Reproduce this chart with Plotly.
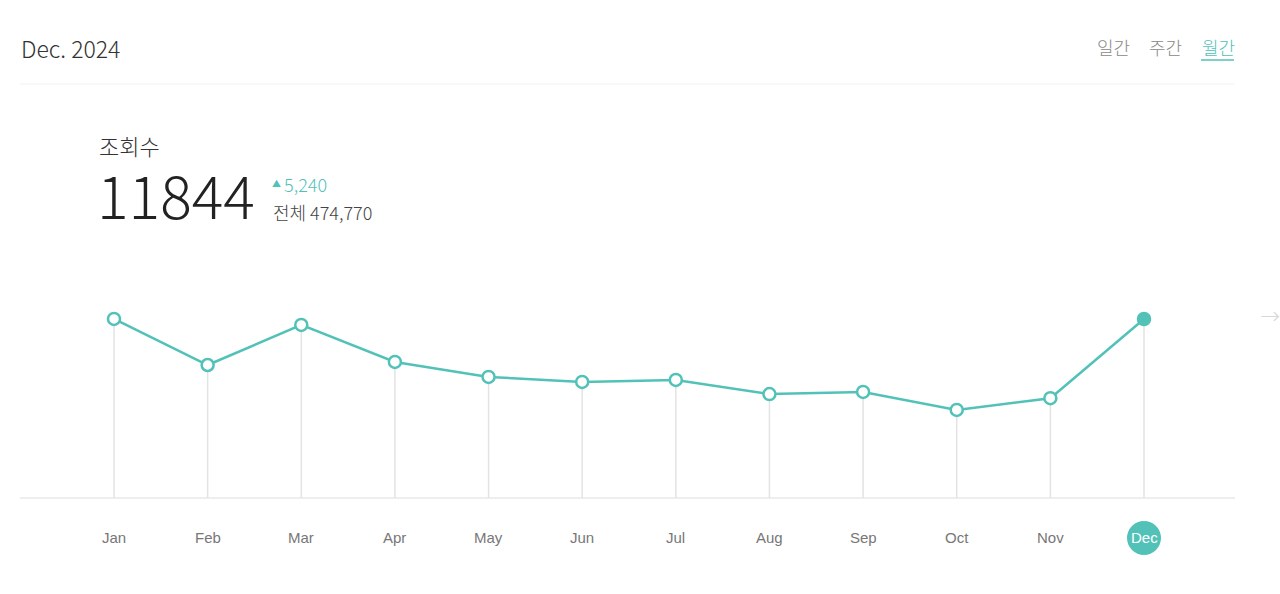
import plotly.graph_objects as go

# monthly views
months = ["Jan", "Feb", "Mar", "Apr", "May", "Jun", "Jul", "Aug", "Sep", "Oct", "Nov", "Dec"]
views = [11850, 8800, 11450, 9000, 8010, 7680, 7810, 6880, 7020, 5830, 6604, 11844]

title_text = "Dec. 2024"
metric_name = "조회수"
current_value = "11844"
change_text = "5,240"
total_text = "전체 474,770"
tabs = ["일간", "주간", "월간"]

W, H = 1280, 594
TEAL = "#52c2b8"
KR = "Noto Sans CJK KR"


def px(x):
    return x / W


def py(y):
    return 1 - y / H


xs = list(range(len(months)))

# stems from baseline to each point
stem_x, stem_y = [], []
for i, v in zip(xs, views):
    stem_x += [i, i, None]
    stem_y += [0, v, None]

fig = go.Figure()
fig.add_trace(go.Scatter(x=stem_x, y=stem_y, mode="lines",
                         line=dict(color="#e3e3e3", width=1.5), hoverinfo="skip"))
fig.add_trace(go.Scatter(x=xs, y=views, mode="lines+markers",
                         line=dict(color=TEAL, width=2.5),
                         marker=dict(size=12, color=["white"] * 11 + [TEAL],
                                     line=dict(color=TEAL, width=2.5))))

# pixel layout: x index 0 at 114px, 11 at 1144px; y 0 at 498px, 11844 at 319px
xscale = (1144 - 114) / 11
x0 = -114 / xscale
yscale = views[-1] / (498 - 319)
fig.update_xaxes(range=[x0, x0 + W / xscale], visible=False, fixedrange=True)
fig.update_yaxes(range=[-(H - 498) * yscale, 498 * yscale], visible=False, fixedrange=True)

shapes = [
    dict(type="line", xref="paper", yref="paper", x0=px(20), x1=px(1235), y0=py(84), y1=py(84),
         line=dict(color="#f2f2f2", width=1)),
    dict(type="line", xref="paper", yref="y", x0=px(20), x1=px(1235), y0=0, y1=0,
         line=dict(color="#e8e8e8", width=1.5), layer="below"),
    dict(type="line", xref="paper", yref="paper", x0=px(1201), x1=px(1234), y0=py(60), y1=py(60),
         line=dict(color=TEAL, width=1.5)),
    dict(type="circle", xref="x", yref="paper", x0=11 - 17 / xscale, x1=11 + 17 / xscale,
         y0=py(555), y1=py(521), fillcolor=TEAL, line=dict(width=0), layer="below"),
]

ann = []
for i, m in enumerate(months):
    ann.append(dict(x=i, y=py(537), xref="x", yref="paper", text=m, xanchor="center",
                    font=dict(family="Liberation Sans", size=15,
                              color="white" if i == 11 else "#777")))

ann += [
    dict(x=px(19), y=py(48), text=title_text, xanchor="left",
         font=dict(family=KR, size=23, color="#333", weight=300)),
    dict(x=px(97), y=py(145), text=metric_name, xanchor="left",
         font=dict(family=KR, size=22, color="#333", weight=300)),
    dict(x=px(95), y=py(193), text=current_value, xanchor="left",
         font=dict(family=KR, size=59, color="#222", weight=300)),
    dict(x=px(270), y=py(183), text="▲", xanchor="left",
         font=dict(family=KR, size=9, color=TEAL)),
    dict(x=px(282), y=py(184), text=change_text, xanchor="left",
         font=dict(family=KR, size=18, color=TEAL, weight=300)),
    dict(x=px(271), y=py(212), text=total_text, xanchor="left",
         font=dict(family=KR, size=18, color="#444", weight=300)),
    dict(x=px(1258), y=py(316), text="→", xanchor="left",
         font=dict(family="DejaVu Sans", size=24, color="#d8d8d8", weight=300)),
]
for t, x, c in zip(tabs, [1095, 1147, 1200], ["#888", "#888", TEAL]):
    ann.append(dict(x=px(x), y=py(47), text=t, xanchor="left",
                    font=dict(family=KR, size=18, color=c, weight=300)))

for a in ann:
    a.setdefault("xref", "paper")
    a.setdefault("yref", "paper")
    a["yanchor"] = "middle"
    a["showarrow"] = False

fig.update_layout(width=W, height=H, margin=dict(l=0, r=0, t=0, b=0),
                  paper_bgcolor="white", plot_bgcolor="white", showlegend=False,
                  shapes=shapes, annotations=ann)

fig.write_html("out.html", config={"displayModeBar": False},
               post_script="document.body.style.margin = '0';")
